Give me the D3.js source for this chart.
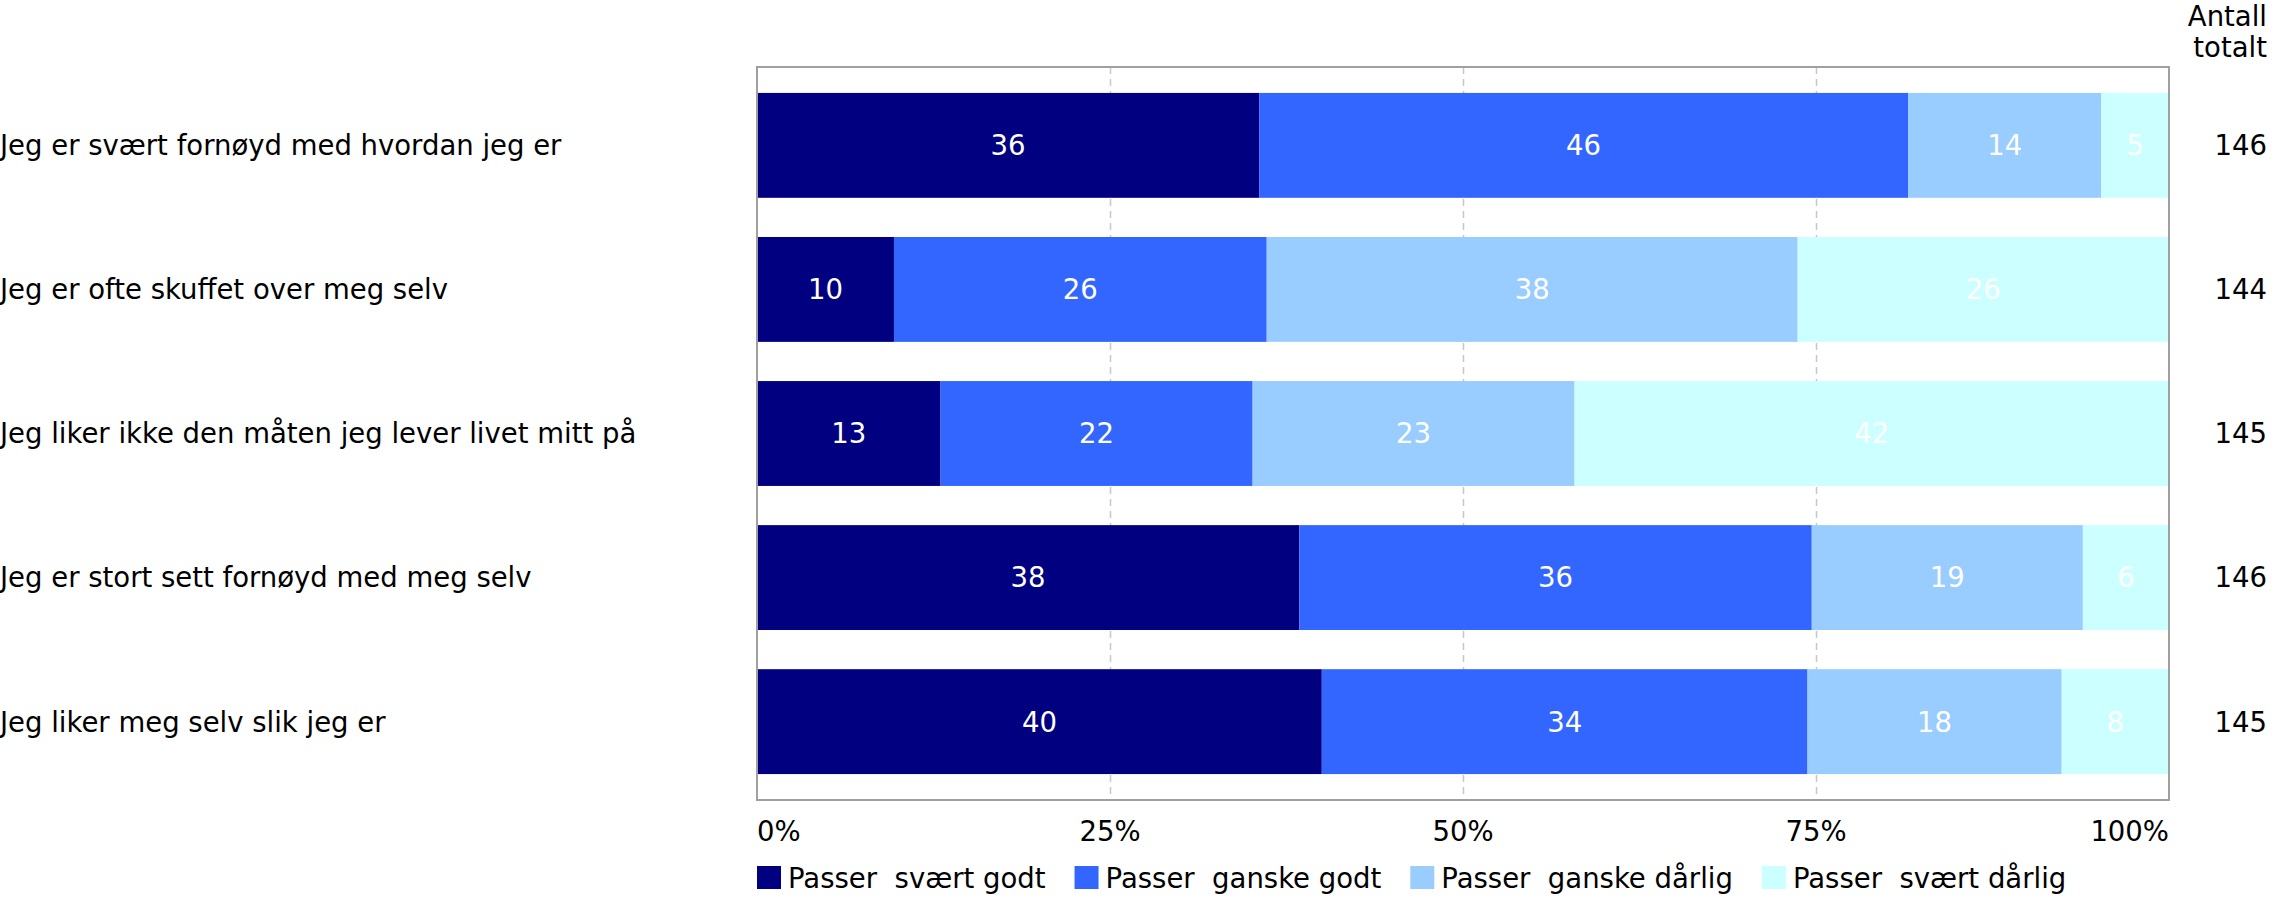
<!DOCTYPE html>
<html>
<head>
<meta charset="utf-8">
<script src="https://cdn.jsdelivr.net/npm/d3@7"></script>
<style>
  body { margin: 0; background: #fff; }
  svg text { font-family: "DejaVu Sans", Verdana, sans-serif; }
</style>
</head>
<body>
<svg id="chart" width="2286" height="900"></svg>
<script>
// data (percent of each row)
const statements = [
  "Jeg er svært fornøyd med hvordan jeg er",
  "Jeg er ofte skuffet over meg selv",
  "Jeg liker ikke den måten jeg lever livet mitt på",
  "Jeg er stort sett fornøyd med meg selv",
  "Jeg liker meg selv slik jeg er"
];
const answers = ["Passer  svært godt", "Passer  ganske godt", "Passer  ganske dårlig", "Passer  svært dårlig"];
const svaertGodt   = [35.6, 9.7, 13.0, 38.4, 40.0];
const ganskeGodt   = [46.0, 26.4, 22.1, 36.3, 34.4];
const ganskeDarlig = [13.7, 37.6, 22.8, 19.2, 18.0];
const svaertDarlig = [4.8, 26.3, 42.1, 6.1, 7.6];
const totals = [146, 144, 145, 146, 145];
const ticks = [0, 25, 50, 75, 100];
const colors = ["#000080", "#3366ff", "#99ccff", "#ccffff"];

const series = [svaertGodt, ganskeGodt, ganskeDarlig, svaertDarlig];
const FS = 27.5;

const svg = d3.select("#chart");
const pLeft = 757, pRight = 2169, pTop = 67, pBottom = 800;

var x = d3.scaleLinear().domain([0, 100]).range([pLeft, pRight]);
var y = d3.scaleBand().domain(statements).range([pTop, pBottom]).paddingInner(0.272).paddingOuter(0.18);
var color = d3.scaleOrdinal().domain(answers).range(colors);

// stacked rows, scaled to 100%
var rows = statements.map(function(s, i) {
  var vals = series.map(function(a) { return a[i]; });
  var sum = d3.sum(vals), acc = 0;
  return vals.map(function(v, j) {
    var x0 = acc / sum * 100;
    acc += v;
    return { stmt: s, key: answers[j], value: v, x0: x0, x1: acc / sum * 100 };
  });
});

// grid
svg.append("g").selectAll("line").data(ticks.slice(1, -1)).enter().append("line")
  .attr("x1", d => x(d) + 0.5).attr("x2", d => x(d) + 0.5)
  .attr("y1", pTop).attr("y2", pBottom)
  .attr("stroke", "#c8c8c8").attr("stroke-width", 1.5)
  .attr("stroke-dasharray", "7,5");

// bars
var g = svg.append("g");
g.selectAll("g").data(rows).enter().append("g")
  .selectAll("rect").data(d => d).enter().append("rect")
  .attr("x", d => x(d.x0))
  .attr("width", d => x(d.x1) - x(d.x0))
  .attr("y", d => y(d.stmt))
  .attr("height", y.bandwidth())
  .attr("fill", d => color(d.key));

g.selectAll("text").data(rows.flat()).enter().append("text")
  .attr("x", d => (x(d.x0) + x(d.x1)) / 2)
  .attr("y", d => y(d.stmt) + y.bandwidth() / 2)
  .attr("dy", "0.36em")
  .attr("text-anchor", "middle")
  .attr("fill", "#fff")
  .style("font-size", FS + "px")
  .text(d => Math.round(d.value));

// frame
svg.append("rect")
  .attr("x", pLeft).attr("y", pTop)
  .attr("width", pRight - pLeft).attr("height", pBottom - pTop)
  .attr("fill", "none").attr("stroke", "#a0a0a0").attr("stroke-width", 2);

// category labels
svg.append("g").selectAll("text").data(statements).enter().append("text")
  .attr("x", 0)
  .attr("y", d => y(d) + y.bandwidth() / 2)
  .attr("dy", "0.36em")
  .style("font-size", FS + "px")
  .text(d => d);

// x tick labels
svg.append("g").selectAll("text").data(ticks).enter().append("text")
  .attr("x", d => x(d))
  .attr("y", 841)
  .attr("text-anchor", (d, i) => i == 0 ? "start" : (i == ticks.length - 1 ? "end" : "middle"))
  .style("font-size", FS + "px")
  .text(d => d + "%");

// totals column
svg.append("text").attr("x", 2267).attr("y", 26).attr("text-anchor", "end")
  .style("font-size", FS + "px").text("Antall");
svg.append("text").attr("x", 2267).attr("y", 57).attr("text-anchor", "end")
  .style("font-size", FS + "px").text("totalt");
svg.append("g").selectAll("text").data(totals).enter().append("text")
  .attr("x", 2267)
  .attr("y", (d, i) => y(statements[i]) + y.bandwidth() / 2)
  .attr("dy", "0.36em")
  .attr("text-anchor", "end")
  .style("font-size", FS + "px")
  .text(d => d);

// legend
var lx = pLeft;
var legend = svg.append("g");
answers.forEach(function(a) {
  var it = legend.append("g").attr("transform", "translate(" + lx + ",866)");
  it.append("rect").attr("width", 24).attr("height", 23).attr("fill", color(a));
  var t = it.append("text").attr("x", 31).attr("y", 22)
    .style("font-size", FS + "px").style("white-space", "pre").text(a);
  lx += 31 + t.node().getComputedTextLength() + 29;
});
</script>
</body>
</html>
